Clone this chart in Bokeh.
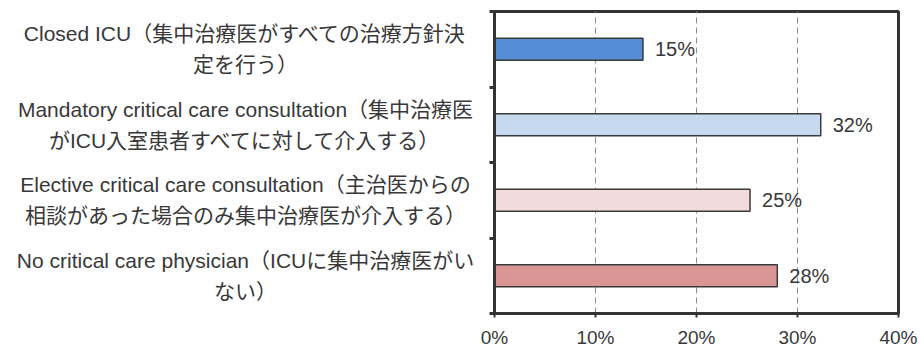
from bokeh.plotting import figure
from bokeh.layouts import row
from bokeh.models import Range1d, FixedTicker, PrintfTickFormatter, ColumnDataSource
from bokeh.core.properties import value
from bokeh.embed import file_html
from bokeh.resources import INLINE

categories = [
    "Closed ICU（集中治療医がすべての治療方針決\n定を行う）",
    "Mandatory critical care consultation（集中治療医\nがICU入室患者すべてに対して介入する）",
    "Elective critical care consultation（主治医からの\n相談があった場合のみ集中治療医が介入する）",
    "No critical care physician（ICUに集中治療医がい\nない）",
]
values = [14.7, 32.3, 25.3, 28.0]
value_labels = ["15%", "32%", "25%", "28%"]
colors = ["#558ED5", "#C6D9F1", "#F2DCDB", "#D99694"]
x_ticks = [0, 10, 20, 30, 40]

FONT = "'Liberation Sans', 'Noto Sans CJK JP'"
TXT = "#383838"

n = len(categories)
ypos = [n - i - 0.5 for i in range(n)]
src = ColumnDataSource(dict(cat=categories, y=ypos, v=values, lab=value_labels, c=colors,
                            zero=[0] * n))

yr = Range1d(0, n)

# left label panel
left = figure(width=480, height=352, x_range=Range1d(-245, 235), y_range=yr,
              output_backend="svg", toolbar_location=None,
              min_border_left=0, min_border_right=0, min_border_top=11, min_border_bottom=39)
left.axis.visible = False
left.grid.visible = False
left.outline_line_color = None
left.text(x="zero", y="y", text="cat", source=src, text_align="center", text_baseline="middle",
          text_font=value(FONT), text_font_size="21px", text_color=TXT, text_line_height=1.33)

p = figure(width=442, height=352, x_range=Range1d(0, 40), y_range=yr,
           output_backend="svg", toolbar_location=None,
           min_border_left=14, min_border_right=24, min_border_top=11, min_border_bottom=39)
p.hbar(y="y", right="v", left=0, height=0.29, source=src, fill_color="c",
       line_color="#3a3a3a", line_width=1.5)
p.text(x="v", y="y", text="lab", source=src, x_offset=12, text_align="left", text_baseline="middle",
       text_font=value(FONT), text_font_size="20px", text_color=TXT)

p.outline_line_color = "#333333"
p.outline_line_width = 3

p.xaxis.ticker = FixedTicker(ticks=x_ticks)
p.xaxis.formatter = PrintfTickFormatter(format="%d%%")
p.xaxis.axis_line_width = 3
p.xaxis.axis_line_color = "#333333"
p.xaxis.major_tick_line_width = 2
p.xaxis.major_tick_line_color = "#333333"
p.xaxis.major_tick_out = 4
p.xaxis.major_tick_in = 0
p.xaxis.minor_tick_line_color = None
p.xaxis.major_label_text_font = FONT
p.xaxis.major_label_text_font_size = "19px"
p.xaxis.major_label_text_color = TXT
p.xaxis.major_label_standoff = 9

p.yaxis.ticker = FixedTicker(ticks=list(range(n + 1)))
p.yaxis.major_label_overrides = {i: "" for i in range(n + 1)}
p.yaxis.axis_line_width = 3
p.yaxis.axis_line_color = "#333333"
p.yaxis.major_tick_line_width = 3
p.yaxis.major_tick_line_color = "#333333"
p.yaxis.major_tick_out = 5
p.yaxis.major_tick_in = 0
p.yaxis.minor_tick_line_color = None

p.xgrid.ticker = FixedTicker(ticks=x_ticks[1:-1])
p.xgrid.grid_line_color = "#8c8c8c"
p.xgrid.grid_line_dash = "6 4"
p.xgrid.grid_line_width = 1
p.ygrid.visible = False

layout = row(left, p)
open("out.html", "w").write(file_html(layout, INLINE))
